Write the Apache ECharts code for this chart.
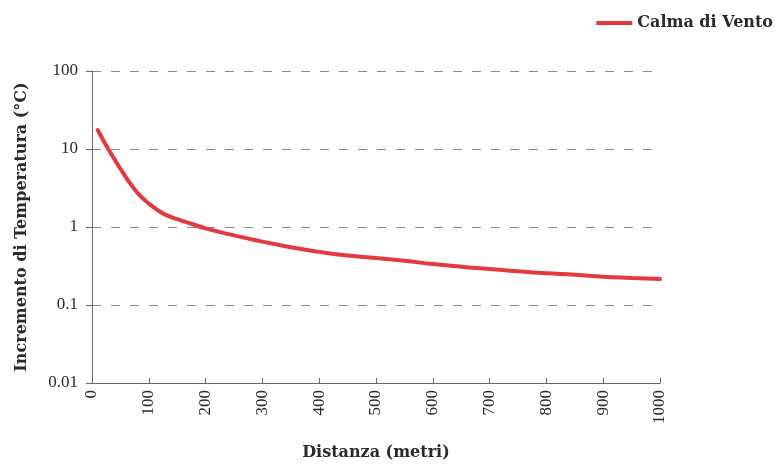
<!DOCTYPE html>
<html>
<head>
<meta charset="utf-8">
<script src="https://cdn.jsdelivr.net/npm/echarts@6/dist/echarts.min.js"></script>
<style>
  html, body { margin: 0; padding: 0; background: #fff; }
  #chart { width: 782px; height: 466px; }
</style>
</head>
<body>
<div id="chart"></div>
<script>
// Distance from the source (metres)
const distances = [10, 25, 40, 55, 70, 85, 100, 115, 130, 150, 175, 200, 250, 300, 350, 400, 450, 500,
                   550, 600, 650, 700, 750, 800, 850, 900, 950, 1000];
// Temperature increase (°C) with no wind
const calmaDiVento = [17.5, 11.1, 7.3, 4.9, 3.4, 2.5, 2.0, 1.66, 1.43, 1.26, 1.1, 0.96, 0.78, 0.65, 0.55, 0.48,
                      0.43, 0.40, 0.37, 0.335, 0.31, 0.29, 0.27, 0.255, 0.245, 0.23, 0.222, 0.215];
const seriesName = 'Calma di Vento';
const xTicks = [0, 100, 200, 300, 400, 500, 600, 700, 800, 900, 1000];
const yTicks = [0.01, 0.1, 1, 10, 100];

const serif = '"Liberation Serif", "DejaVu Serif", serif';
const titleFont = '"DejaVu Serif", "Liberation Serif", serif';
const textColor = '#2a2a2a';

const chart = echarts.init(document.getElementById('chart'), null, { renderer: 'canvas' });
chart.setOption({
  backgroundColor: '#ffffff',
  animation: false,
  legend: {
    right: 4,
    top: 10,
    icon: 'rect',
    itemWidth: 36,
    itemHeight: 4,
    itemGap: 6,
    textStyle: { fontFamily: titleFont, fontSize: 16, fontWeight: 'bold', color: textColor },
    data: [seriesName]
  },
  grid: { left: 92, right: 122, top: 71, bottom: 83 },
  xAxis: {
    type: 'value',
    min: xTicks[0],
    max: xTicks[xTicks.length - 1],
    interval: 100,
    name: 'Distanza (metri)',
    nameLocation: 'middle',
    nameGap: 62,
    nameTextStyle: { fontFamily: titleFont, fontSize: 16, fontWeight: 'bold', color: textColor },
    axisLine: { lineStyle: { color: '#666', width: 1 } },
    axisTick: { show: true, inside: true, length: 5, lineStyle: { color: '#666' } },
    axisLabel: {
      rotate: 90, margin: 7, fontFamily: serif, fontSize: 17, color: textColor,
      formatter: v => String(v)
    },
    splitLine: { show: false }
  },
  yAxis: {
    type: 'log',
    logBase: 10,
    min: yTicks[0],
    max: yTicks[yTicks.length - 1],
    name: 'Incremento di Temperatura (°C)',
    nameLocation: 'middle',
    nameGap: 62,
    nameTextStyle: { fontFamily: titleFont, fontSize: 16, fontWeight: 'bold', color: textColor },
    axisLine: { show: true, lineStyle: { color: '#666', width: 1 } },
    axisTick: { show: true, length: 6, lineStyle: { color: '#666' } },
    axisLabel: {
      margin: 14, fontFamily: serif, fontSize: 17, color: textColor,
      formatter: v => String(+v.toPrecision(3))
    },
    splitLine: { show: true, lineStyle: { color: '#8a8a8a', type: [9, 10], width: 1.2 } }
  },
  series: [{
    name: seriesName,
    type: 'line',
    smooth: 0.5,
    showSymbol: false,
    color: '#e53a3d',
    lineStyle: { width: 4, color: '#e53a3d', cap: 'round' },
    data: distances.map((d, i) => [d, calmaDiVento[i]])
  }]
});
</script>
</body>
</html>
